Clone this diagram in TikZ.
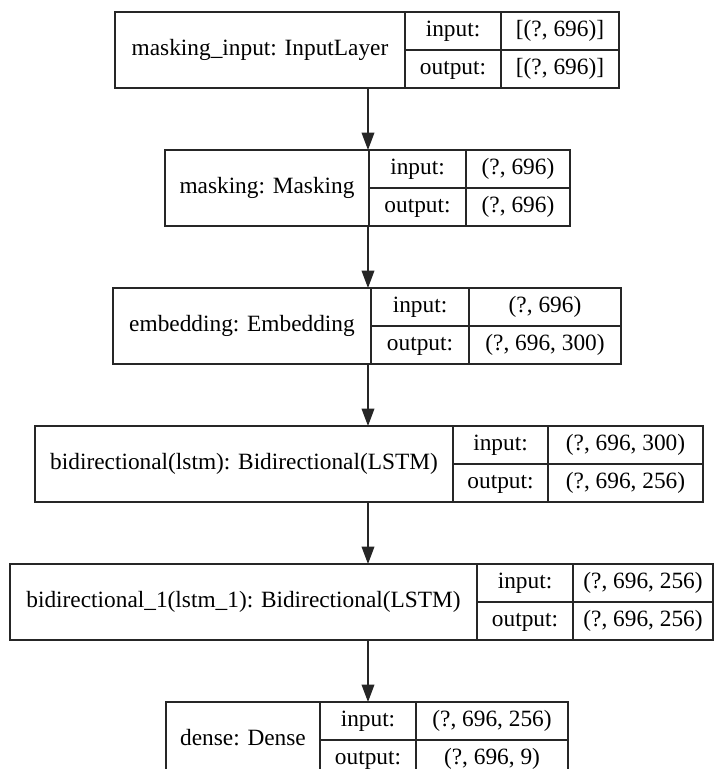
\documentclass[tikz,border=0pt]{standalone}
\usepackage{fontspec}
\setmainfont{Liberation Serif}
\newfontfamily\layerfont{Liberation Serif}
\usetikzlibrary{arrows.meta}
\tikzset{
  cell/.style={draw=black!85, line width=1pt, inner sep=0pt, outer sep=0pt,
    text height=0.9em, text depth=0.06em, anchor=north west,
    font=\layerfont\fontsize{17.5}{20}\selectfont},
  arr/.style={-{Triangle[length=13pt,width=9.5pt]}, line width=1pt, draw=black!85}
}
\newcommand\mklayer[9]{%
  \node[cell, minimum width={(#4-#3)*0.75pt}, minimum height={76*0.75pt}] (#1) at (#3,#2) {#7};
  \node[cell, minimum width={(#5-#4)*0.75pt}, minimum height={38*0.75pt}] (#1il) at (#4,#2) {input:};
  \node[cell, minimum width={(#6-#5)*0.75pt}, minimum height={38*0.75pt}] (#1iv) at (#5,#2) {#8};
  \node[cell, minimum width={(#5-#4)*0.75pt}, minimum height={38*0.75pt}] (#1ol) at ({#4},{#2+38}) {output:};
  \node[cell, minimum width={(#6-#5)*0.75pt}, minimum height={38*0.75pt}] (#1ov) at ({#5},{#2+38}) {#9};
}
\begin{document}
\begin{tikzpicture}[x=0.75pt,y=-0.75pt]
\useasboundingbox (0,0) rectangle (715,769);
\clip (0,0) rectangle (715,769);
\mklayer{L1}{12}{115}{405}{501}{619}{masking\_input: InputLayer}{[(?, 696)]}{[(?, 696)]}
\mklayer{L2}{150}{165}{369}{466}{570}{masking: Masking}{(?, 696)}{(?, 696)}
\mklayer{L3}{288}{113}{371}{469}{621}{embedding: Embedding}{(?, 696)}{(?, 696, 300)}
\mklayer{L4}{426}{35}{453}{548}{703}{bidirectional(lstm): Bidirectional(LSTM)}{(?, 696, 300)}{(?, 696, 256)}
\mklayer{L5}{564}{10}{477}{573}{713}{bidirectional\_1(lstm\_1): Bidirectional(LSTM)}{(?, 696, 256)}{(?, 696, 256)}
\mklayer{L6}{702}{166}{320}{416}{568}{dense: Dense}{(?, 696, 256)}{(?, 696, 9)}
\coordinate (ax) at (368,0);
\draw[arr] (L1.south -| ax) -- (L2.north -| ax);
\draw[arr] (L2.south -| ax) -- (L3.north -| ax);
\draw[arr] (L3.south -| ax) -- (L4.north -| ax);
\draw[arr] (L4.south -| ax) -- (L5.north -| ax);
\draw[arr] (L5.south -| ax) -- (L6.north -| ax);
\end{tikzpicture}
\end{document}
